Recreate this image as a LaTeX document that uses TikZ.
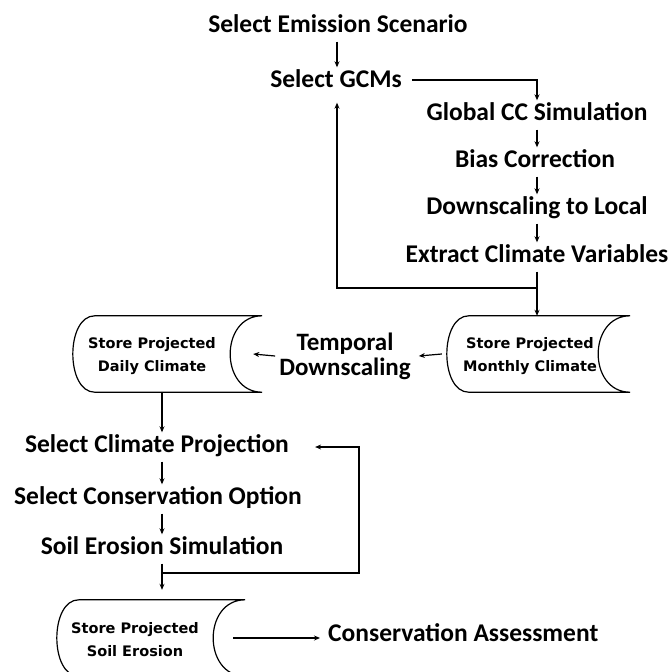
\documentclass[tikz,border=0pt]{standalone}
\usepackage{fontspec}
\setmainfont{Carlito}
\newfontfamily\storefont{DejaVu Sans}
\usetikzlibrary{arrows.meta,calc}
\newcommand\storeoutline[1]{%
  \draw[ln] ($(#1.north west)+(22,0)$) .. controls ($(#1.north west)+(-7.3,0)$) and ($(#1.south west)+(-7.3,0)$) .. ($(#1.south west)+(22,0)$)
    -- (#1.south east) .. controls ($(#1.south east)+(-42.7,0)$) and ($(#1.north east)+(-42.7,0)$) .. (#1.north east) -- cycle;}
\begin{document}
\begin{tikzpicture}[x=1pt,y=-1pt,
  lbl/.style={font=\bfseries\fontsize{25.5}{25}\selectfont, inner xsep=1pt, inner ysep=4pt, text height=16pt, text depth=5pt},
  tlbl/.style={font=\bfseries\fontsize{25}{25}\selectfont, inner sep=1pt, align=center},
  storebox/.style={minimum height=76pt, inner sep=0pt},
  storetxt/.style={font=\storefont\bfseries\fontsize{14.5}{23}\selectfont, align=center, inner sep=0pt},
  ln/.style={line width=1.2pt},
  arr/.style={line width=1.2pt, -{Stealth[length=6pt,width=5pt]}}]
\clip (0,0) rectangle (671,672);
% top column
\node[lbl] (es) at (338,27) {Select Emission Scenario};
\node[lbl] (gcm) at (336,82) {Select GCMs};
\node[lbl] (glob) at (537,115) {Global CC Simulation};
\node[lbl] (bias) at (535,162) {Bias Correction};
\node[lbl] (down) at (537,209) {Downscaling to Local};
\node[lbl] (ext) at (537,257) {Extract Climate Variables};
% stores
\node[storebox, minimum width=183pt] (monthly) at (538.5,354) {};
\node[storetxt] (monthlyt) at (530,356.5) {Store Projected\\Monthly Climate};
\node[storebox, minimum width=189pt] (daily) at (167.5,354) {};
\node[storetxt] (dailyt) at (152,356.5) {Store Projected\\Daily Climate};
\node[tlbl] (temp) at (345,356) {Temporal\\Downscaling};
\storeoutline{monthly}
\storeoutline{daily}
% bottom column
\coordinate (col) at (162,0);
\node[lbl] (scp) at (157,447) {Select Climate Projection};
\node[lbl] (sco) at (158,499) {Select Conservation Option};
\node[lbl] (ses) at (162,549) {Soil Erosion Simulation};
\node[storebox, minimum width=188pt] (soil) at (151,638) {};
\node[storetxt] (soilt) at (135,640) {Store Projected\\Soil Erosion};
\storeoutline{soil}
\node[lbl, anchor=west] (ca) at (327,636) {Conservation Assessment};
% connectors top
\draw[arr] (es.south -| gcm.north) ++(1,0) -- ($(gcm.north)+(1,0)$);
\draw[arr] ($(gcm.east)+(9,-2)$) -| (glob.north);
\draw[arr] (glob.south) -- (glob.south |- bias.north);
\draw[arr] (glob.south |- bias.south) -- (glob.south |- down.north);
\draw[arr] (down) -- (ext);
\draw[arr] (ext.south) -- (ext.south |- monthly.north);
\coordinate (j1) at (537,288);
\draw[arr] (j1) -| ($(gcm.south)+(1,6)$);
\draw[arr] ($(monthly.west)+(-5,0)$) -- ($(temp.east)+(7,0)$);
\draw[arr] ($(temp.west)+(-3,0)$) -- ($(daily.east)+(-9,0)$);
% connectors bottom
\draw[arr] (daily.south -| col) -- (scp.north -| col);
\draw[arr] (scp.south -| col) -- (sco.north -| col);
\draw[arr] (sco.south -| col) -- (ses.north -| col);
\draw[arr] (ses.south -| col) -- ($(soil.north -| col)+(0,-10)$);
\coordinate (j2) at (162,573);
\coordinate (r2) at (359,573);
\draw[arr] (j2) -- (r2) |- ($(scp.east)+(25,0)$);
\draw[arr] ($(soil.east)+(-12,0)$) -- ($(soil.east -| ca.west)+(-7,0)$);
\end{tikzpicture}
\end{document}
